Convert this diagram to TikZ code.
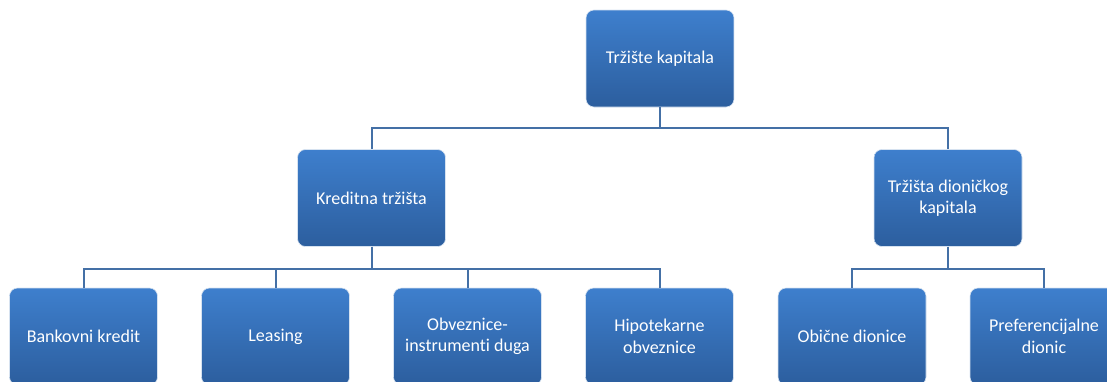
\documentclass[tikz,border=0pt]{standalone}
\usepackage{fontspec}
\setmainfont{Carlito}[Ligatures=NoCommon]
\definecolor{boxtop}{HTML}{3E7FCD}
\definecolor{boxbottom}{HTML}{2C5E9E}
\definecolor{boxedge}{HTML}{D6E2F0}
\definecolor{linkblue}{HTML}{4470A6}

\begin{document}
\begin{tikzpicture}[x=1pt,y=1pt]
    %
    % `unit' is used for all boxes of the tree.
    % `link' is used for the elbow connectors.
    \tikzstyle{unit} = [draw=boxedge,line width=0.6pt,top color=boxtop,bottom color=boxbottom,rounded corners=8pt,minimum width=148pt,minimum height=97pt,text=white,align=center,font=\fontsize{18}{21.5}\selectfont]
    \tikzstyle{link} = [draw=linkblue,line width=2pt]
    %
    \useasboundingbox (0,0) rectangle (1107,-381);
    %
    % Level 1
    \node[unit] (root) at (660,-58.5) {Tržište kapitala};
    %
    % Level 2
    \node[unit] (credit) at (371.5,-198) {Kreditna tržišta};
    \node[unit] (equity) at (948,-198) {Tržišta dioničkog\\kapitala};
    %
    % Level 3
    \node[unit] (loan) at (83.5,-336.5) {Bankovni kredit};
    \node[unit] (leasing) at (275.5,-336.5) {Leasing};
    \node[unit] (bonds) at (467.5,-336.5) {Obveznice-\\instrumenti duga};
    \node[unit] (mortgage) at (659.5,-336.5) {Hipotekarne\\obveznice};
    \node[unit] (common) at (852,-336.5) {Obične dionice};
    \node[unit] (preferred) at (1044,-336.5) {Preferencijalne\\dionic};
    %
    % Connectors
    \foreach \child in {credit,equity}
        \draw[link] (root.south) -- ++(0,-21) -| (\child.north);
    \foreach \child in {loan,leasing,bonds,mortgage}
        \draw[link] (credit.south) -- ++(0,-22) -| (\child.north);
    \foreach \child in {common,preferred}
        \draw[link] (equity.south) -- ++(0,-22) -| (\child.north);
    %
\end{tikzpicture}
\end{document}
